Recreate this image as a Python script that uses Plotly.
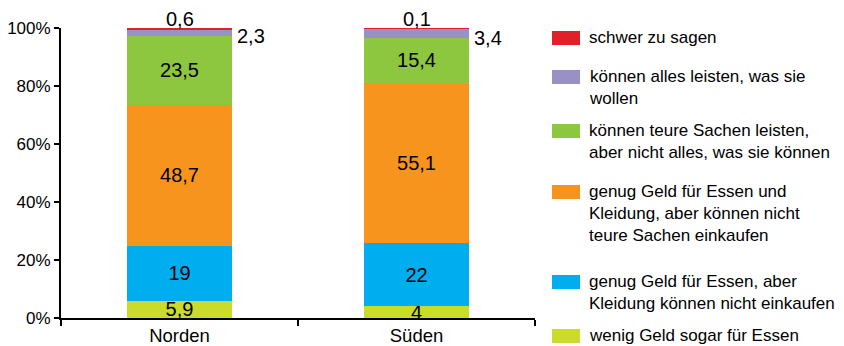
import plotly.graph_objects as go

regionen = ['Norden', 'Süden']

# Anteile in Prozent, von unten nach oben gestapelt
wenig_geld = [5.9, 4]
essen_nicht_kleidung = [19, 22]
essen_und_kleidung = [48.7, 55.1]
teure_sachen = [23.5, 15.4]
alles_leisten = [2.3, 3.4]
schwer_zu_sagen = [0.6, 0.1]

y_ticks = [0, 20, 40, 60, 80, 100]

serien = [
    ('wenig Geld sogar für Essen', wenig_geld, '#CBDB2A'),
    ('genug Geld für Essen, aber<br>Kleidung können nicht einkaufen', essen_nicht_kleidung, '#00AEEF'),
    ('genug Geld für Essen und<br>Kleidung, aber können nicht<br>teure Sachen einkaufen', essen_und_kleidung, '#F7941D'),
    ('können teure Sachen leisten,<br>aber nicht alles, was sie können', teure_sachen, '#8DC63F'),
    ('können alles leisten, was sie<br>wollen', alles_leisten, '#9891C8'),
    ('schwer zu sagen', schwer_zu_sagen, '#E2202A'),
]

def komma(v):
    return ('%g' % v).replace('.', ',')

# die Seite hat 8px Rand, daher ist die Figur etwas kleiner
W, H = 836, 338
L, T, R, B = 53, 20, 309, 28
PW, PH = W - L - R, H - T - B

def px_x(x):
    return (x - 8 - L) / PW

def px_y(y):
    return 1 - (y - 8 - T) / PH

fig = go.Figure()
for name, werte, farbe in serien:
    klein = max(werte) < 5
    fig.add_trace(go.Bar(
        x=regionen, y=werte, name=name, marker_color=farbe,
        marker_line_width=0, width=0.44,
        text=None if klein else [komma(v) for v in werte],
        textposition='inside', insidetextanchor='middle', textangle=0,
        textfont=dict(size=20, color='black'),
        showlegend=False,
    ))

# kleine Werte als Beschriftung außerhalb
for i, reg in enumerate(regionen):
    fig.add_annotation(x=reg, y=100, text=komma(schwer_zu_sagen[i]), showarrow=False,
                       yanchor='bottom', yshift=-4, font=dict(size=20, color='black'))
    fig.add_annotation(x=i + 0.22, y=100 - alles_leisten[i] / 2, text=komma(alles_leisten[i]),
                       showarrow=False, xanchor='left', xshift=3, yshift=-5,
                       font=dict(size=20, color='black'))

# Legende
legende_y = [336, 282, 192, 131, 77, 38]
for (name, werte, farbe), py in zip(serien, legende_y):
    fig.add_shape(type='rect', xref='paper', yref='paper',
                  x0=px_x(552), x1=px_x(580),
                  y0=px_y(py + 7), y1=px_y(py - 7),
                  fillcolor=farbe, line_width=0)
    fig.add_annotation(xref='paper', yref='paper', x=px_x(587), y=px_y(py - 12),
                       text=name, showarrow=False, xanchor='left', yanchor='top', align='left',
                       font=dict(size=17, color='black'))

fig.update_layout(
    barmode='stack',
    width=W, height=H,
    margin=dict(l=L, r=R, t=T, b=B, autoexpand=False),
    plot_bgcolor='white', paper_bgcolor='white',
    font=dict(family='Liberation Sans, Arial, sans-serif', size=18, color='black'),
    uniformtext=dict(minsize=18, mode='show'),
)
fig.update_xaxes(showline=True, linecolor='black', linewidth=2, ticks='outside',
                 tickson='boundaries', ticklen=6, tickwidth=2, tickcolor='black',
                 showgrid=False, tickfont=dict(size=18.5), automargin=False)
fig.update_yaxes(range=[0, 100], tickvals=y_ticks, ticktext=[f'{t}%' for t in y_ticks],
                 showline=True, linecolor='black', linewidth=2, ticks='outside',
                 ticklen=5, tickwidth=2, tickcolor='black', showgrid=False,
                 zeroline=False, tickfont=dict(size=17), automargin=False)

fig.write_html('out.html')
